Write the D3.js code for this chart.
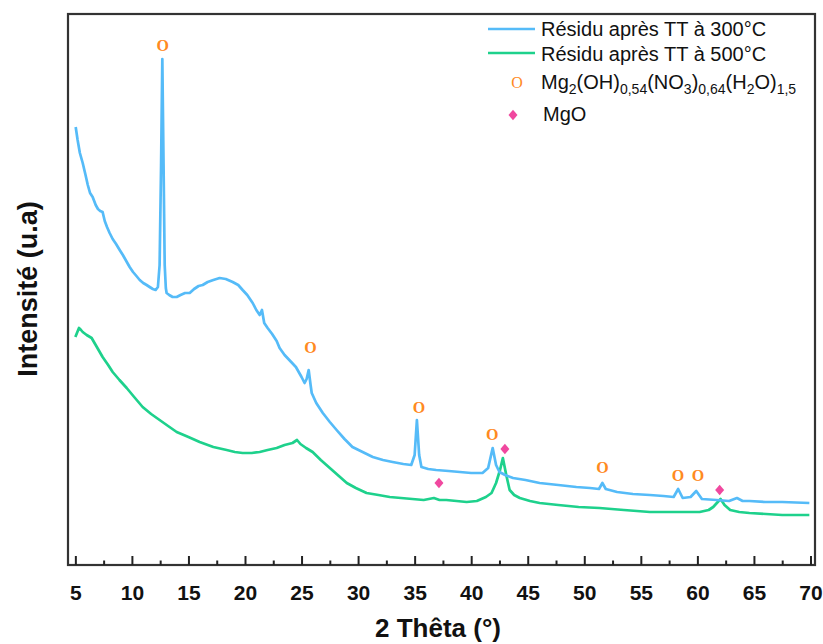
<!DOCTYPE html>
<html><head><meta charset="utf-8">
<script src="https://cdn.jsdelivr.net/npm/d3@7"></script>
<style>body{margin:0;background:#fff}svg{display:block}</style>
</head><body><svg id="c" width="823" height="644"></svg>
<script>
// 2θ (°), intensity (a.u.)
const residu300 = [
[5.03,438],[5.2,425],[5.4,412],[5.65,402],[5.9,390],[6.1,380],[6.3,372],[6.53,368],[6.8,360],[7.0,356],[7.2,354],[7.41,353],[7.6,344],[7.8,338],[8.03,332],[8.3,326],[8.6,321],[8.92,315],[9.2,310],[9.5,304],[9.8,298],[10.1,293],[10.4,289],[10.69,285],[11.0,282],[11.3,280],[11.57,278],[11.85,276],[12.1,275],[12.3,278],[12.45,300],[12.58,400],[12.69,506],[12.8,400],[12.9,300],[13.0,277],[13.07,272],[13.3,270],[13.6,268],[13.96,268],[14.3,270],[14.7,272],[15.11,272],[15.5,276],[15.9,279],[16.26,280],[16.7,283],[17.2,285],[17.76,287],[18.3,286],[18.91,283],[19.4,280],[19.79,275],[20.2,270],[20.68,262],[21.0,255],[21.3,250],[21.5,255],[21.7,242],[22.0,237],[22.4,231],[22.8,224],[23.06,217],[23.5,210],[24.0,204],[24.5,198],[25.0,188],[25.27,182],[25.45,186],[25.63,195],[25.8,180],[25.9,172],[26.3,162],[26.88,152],[27.5,143],[28.1,135],[28.8,126],[29.5,118],[30.4,113],[31.3,108],[32.2,105],[33.05,103],[34.0,101],[34.7,100],[35.0,110],[35.2,145],[35.4,110],[35.6,98],[36.2,96],[36.9,95],[38.0,94],[39.0,93],[40.0,92],[41.0,92],[41.5,97],[41.9,117],[42.2,100],[42.5,93],[43.0,90],[43.7,87],[44.8,85],[46.05,82],[47.7,80],[49.3,78],[50.5,77],[51.3,76],[51.6,82],[51.9,76],[52.9,73],[54.3,71],[55.8,70],[57.0,69],[57.9,68],[58.3,76],[58.7,67],[59.4,68],[59.9,74],[60.4,66],[61.7,65],[62.8,64],[63.5,67],[64.0,64],[64.6,64],[66.0,63],[67.5,63],[69.9,62]
];
const residu500 = [
[5.0,228],[5.32,237],[5.5,235],[5.65,233],[6.0,230],[6.44,227],[6.9,218],[7.41,208],[7.9,200],[8.3,193],[8.9,185],[9.54,177],[10.2,168],[10.95,158],[11.7,151],[12.45,145],[13.2,139],[13.96,133],[15.0,128],[15.99,123],[17.2,118],[18.38,115],[19.1,113],[19.79,112],[20.6,112],[21.3,113],[22.0,115],[22.8,117],[23.5,120],[24.2,122],[24.6,125],[24.9,121],[25.4,117],[25.98,113],[26.7,105],[27.5,97],[28.2,90],[29.0,82],[29.8,77],[30.75,72],[31.8,70],[32.8,68],[33.8,67],[34.8,66],[35.8,65],[36.7,67],[37.2,65],[37.8,65],[38.7,64],[39.6,63],[40.5,64],[41.3,68],[41.8,72],[42.2,82],[42.55,95],[42.8,107],[43.1,90],[43.4,75],[43.8,70],[44.3,67],[45.2,64],[46.05,62],[47.7,60],[49.5,58],[51.35,57],[53.5,55],[55.8,53],[58.0,53],[60.2,53],[61.0,55],[61.4,58],[61.8,63],[62.05,66],[62.4,60],[62.9,55],[63.7,53],[64.6,52],[67.5,50],[69.9,50]
];
// phase markers [2θ, label height]
const hydroxynitratePeaks = [[12.72,520],[25.78,218],[35.38,158],[41.87,131],[51.6,98],[58.28,90],[60.05,90]];
const mgoPeaks = [[37.15,82],[42.98,116],[61.97,75]];
const xTicks = [5,10,15,20,25,30,35,40,45,50,55,60,65,70];
const xMinorTicks = [7.5,12.5,17.5,22.5,27.5,32.5,37.5,42.5,47.5,52.5,57.5,62.5,67.5];
const seriesNames = ["Résidu après TT à 300°C","Résidu après TT à 500°C"];

const C_BLUE = "#55bbf8", C_GREEN = "#1ed18c", C_ORANGE = "#ff8a1f", C_PINK = "#f0489f";
const svg = d3.select("#c");
const L = 68, R = 815, T = 14, B = 565;
const x = d3.scaleLinear().domain([4.35, 70.4]).range([L, R]);
const y = d3.scaleLinear().domain([0, 551]).range([B, T]);

const line = d3.line().x(d => x(d[0])).y(d => y(d[1]));
svg.append("path").datum(residu500).attr("d", line).attr("fill","none").attr("stroke",C_GREEN).attr("stroke-width",2.7).attr("stroke-linejoin","round");
svg.append("path").datum(residu300).attr("d", line).attr("fill","none").attr("stroke",C_BLUE).attr("stroke-width",2.7).attr("stroke-linejoin","round");

// frame
svg.append("rect").attr("x",L).attr("y",T).attr("width",R-L).attr("height",B-T).attr("fill","none").attr("stroke","#333").attr("stroke-width",2.2);

// x axis ticks (inside)
const xa = d3.axisBottom(x).tickValues(xTicks).tickSizeInner(-9).tickSizeOuter(0).tickPadding(20);
const gx = svg.append("g").attr("transform",`translate(0,${B})`).call(xa);
gx.select(".domain").remove();
gx.selectAll(".tick line").attr("stroke","#222").attr("stroke-width",2);
gx.selectAll(".tick text").attr("font-family","'Liberation Sans', Arial, sans-serif").attr("font-weight","bold").attr("font-size",21).attr("fill","#111");
const xm = d3.axisBottom(x).tickValues(xMinorTicks).tickSizeInner(-4.5).tickSizeOuter(0).tickFormat("");
const gm = svg.append("g").attr("transform",`translate(0,${B})`).call(xm);
gm.select(".domain").remove();
gm.selectAll(".tick line").attr("stroke","#222").attr("stroke-width",2);

// titles
svg.append("text").attr("x",438).attr("y",637).attr("text-anchor","middle")
  .attr("font-family","'Liberation Sans', Arial, sans-serif").attr("font-weight","bold").attr("font-size",26).attr("fill","#111").text("2 Thêta (°)");
svg.append("text").attr("transform","translate(37,289) rotate(-90)").attr("text-anchor","middle")
  .attr("font-family","'Liberation Sans', Arial, sans-serif").attr("font-weight","bold").attr("font-size",27).attr("fill","#111").text("Intensité (u.a)");

// markers
const diamond = d3.symbol().type(d3.symbolDiamond2).size(64);
svg.selectAll(".hn").data(hydroxynitratePeaks).join("text")
  .attr("x",d=>x(d[0])).attr("y",d=>y(d[1])).attr("dy","0.35em").attr("text-anchor","middle")
  .attr("font-family","'Liberation Serif', 'Times New Roman', serif").attr("font-weight","bold").attr("font-size",16).attr("fill",C_ORANGE).text("O");
svg.selectAll(".mg").data(mgoPeaks).join("path")
  .attr("transform",d=>`translate(${x(d[0])},${y(d[1])}) scale(0.9,1.05)`).attr("d",diamond).attr("fill",C_PINK);

// legend
const lg = svg.append("g").attr("font-family","'Liberation Sans', Arial, sans-serif").attr("font-size",20).attr("fill","#111");
[[C_BLUE,29,36],[C_GREEN,53,60.5]].forEach((r,i)=>{
  lg.append("line").attr("x1",488).attr("x2",535).attr("y1",r[1]).attr("y2",r[1]).attr("stroke",r[0]).attr("stroke-width",2.7);
  lg.append("text").attr("x",541).attr("y",r[2]).text(seriesNames[i]);
});
lg.append("text").attr("x",517).attr("y",82.5).attr("dy","0.35em").attr("text-anchor","middle")
  .attr("font-family","'Liberation Serif', 'Times New Roman', serif").attr("font-size",16).attr("fill",C_ORANGE).text("O");
const t3 = lg.append("text").attr("x",541).attr("y",88.5);
const parts = [["Mg",0],["2",1],["(OH)",0],["0,54",1],["(NO",0],["3",1],[")",0],["0,64",1],["(H",0],["2",1],["O)",0],["1,5",1]];
let prevSub = false;
parts.forEach(p=>{
  const sub = p[1]===1;
  const ts = t3.append("tspan").text(p[0]).attr("font-size", sub?14:20);
  if (sub && !prevSub) ts.attr("dy",5);
  if (!sub && prevSub) ts.attr("dy",-5);
  prevSub = sub;
});
lg.append("path").attr("transform","translate(513,115) scale(0.9,1.05)").attr("d",diamond).attr("fill",C_PINK);
lg.append("text").attr("x",543).attr("y",120.5).text("MgO");
</script></body></html>
